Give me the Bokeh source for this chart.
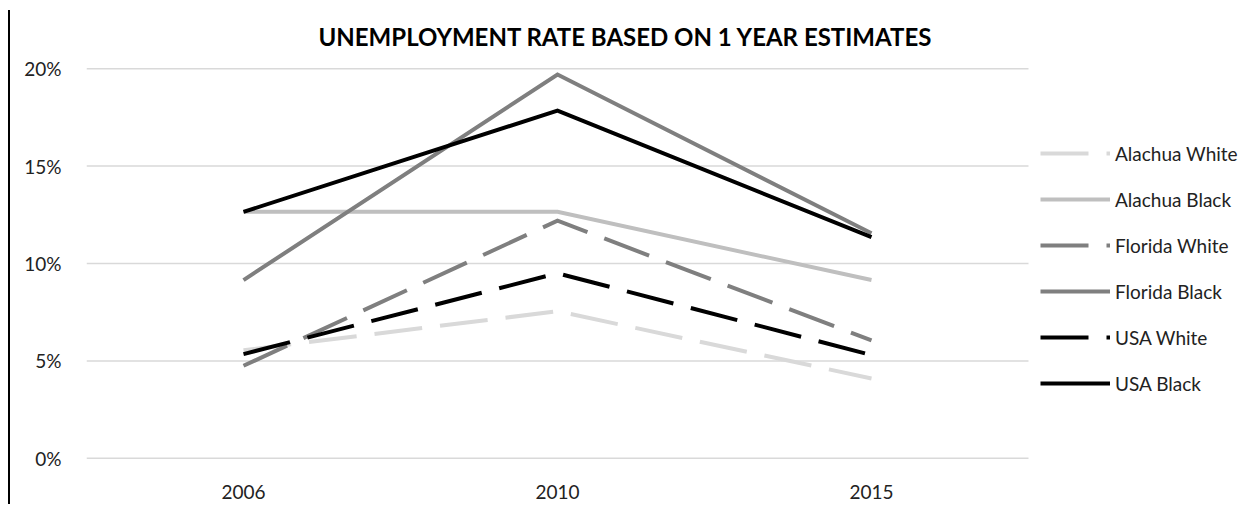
from bokeh.plotting import figure
from bokeh.models import (Range1d, Legend, LegendItem, PrintfTickFormatter, FixedTicker)
from bokeh.embed import file_html
from bokeh.resources import INLINE

years = ["2006", "2010", "2015"]
alachua_white = [5.55, 7.55, 4.1]
alachua_black = [12.65, 12.65, 9.15]
florida_white = [4.75, 12.2, 6.05]
florida_black = [9.15, 19.7, 11.55]
usa_white = [5.35, 9.5, 5.3]
usa_black = [12.65, 17.85, 11.35]
y_ticks = [0, 5, 10, 15, 20]

series_names = ["Alachua White", "Alachua Black", "Florida White",
                "Florida Black", "USA White", "USA Black"]
series_values = [alachua_white, alachua_black, florida_white,
                 florida_black, usa_white, usa_black]
series_colors = ["#d9d9d9", "#bfbfbf", "#7f7f7f", "#7f7f7f", "#000000", "#000000"]
series_dash = ["48 18", "solid", "48 18", "solid", "48 18", "solid"]

FONT = "Lato"
TXT = "#222222"

xs = list(range(len(years)))
x_lo, x_hi = -0.5, len(years) - 0.5          # plot-area extent in category units
x_view_hi = x_lo + 1164 / 314.0              # extra room on the right for the legend

p = figure(x_range=Range1d(x_lo, x_view_hi), y_range=Range1d(-0.06, 20.06),
           width=1250, height=504, output_backend="svg", toolbar_location=None,
           min_border_left=86, min_border_right=0, min_border_top=67, min_border_bottom=45,
           title="UNEMPLOYMENT RATE BASED ON 1 YEAR ESTIMATES")

p.title.text_font = FONT
p.title.text_font_style = "bold"
p.title.text_font_size = "24px"
p.title.text_color = "#000000"
p.title.align = "left"
p.title.offset = 232
p.title.standoff = 33

p.outline_line_color = None
p.background_fill_color = "white"
p.border_fill_color = "white"
p.border_fill_alpha = 0
p.styles = {
    "background-color": "white",
    "background-image": "linear-gradient(black, black)",
    "background-repeat": "no-repeat",
    "background-position": "8px 10px",
    "background-size": "2px 100%",
}

p.xgrid.visible = False
p.ygrid.visible = False
# horizontal gridlines limited to the plot area
p.segment(x0=[x_lo] * len(y_ticks), x1=[x_hi] * len(y_ticks), y0=y_ticks, y1=y_ticks,
          line_color="#d9d9d9", line_width=1.5)

p.yaxis.ticker = FixedTicker(ticks=y_ticks)
p.yaxis.formatter = PrintfTickFormatter(format="%d%%")
p.xaxis.ticker = FixedTicker(ticks=xs)
p.xaxis.major_label_overrides = {i: y for i, y in zip(xs, years)}
for ax in (p.xaxis[0], p.yaxis[0]):
    ax.axis_line_color = None
    ax.major_tick_line_color = None
    ax.minor_tick_line_color = None
    ax.major_label_text_font = FONT
    ax.major_label_text_font_size = "19px"
    ax.major_label_text_color = TXT
p.yaxis.major_label_standoff = 19
p.xaxis.major_label_standoff = 19

items = []
for name, vals, col, dash in zip(series_names, series_values, series_colors, series_dash):
    r = p.line(xs, vals, line_color=col, line_width=4, line_dash=dash, line_cap="butt",
               line_join="miter")
    items.append(LegendItem(label=name, renderers=[r]))

legend = Legend(items=items, location=(954, 64), orientation="vertical",
                glyph_width=70, glyph_height=24, label_height=24, spacing=22,
                padding=0, margin=0, border_line_color=None, background_fill_alpha=0,
                label_text_font=FONT, label_text_font_size="19px", label_text_color=TXT,
                label_standoff=5)
p.add_layout(legend, "center")

open("out.html", "w").write(file_html(p, INLINE))
